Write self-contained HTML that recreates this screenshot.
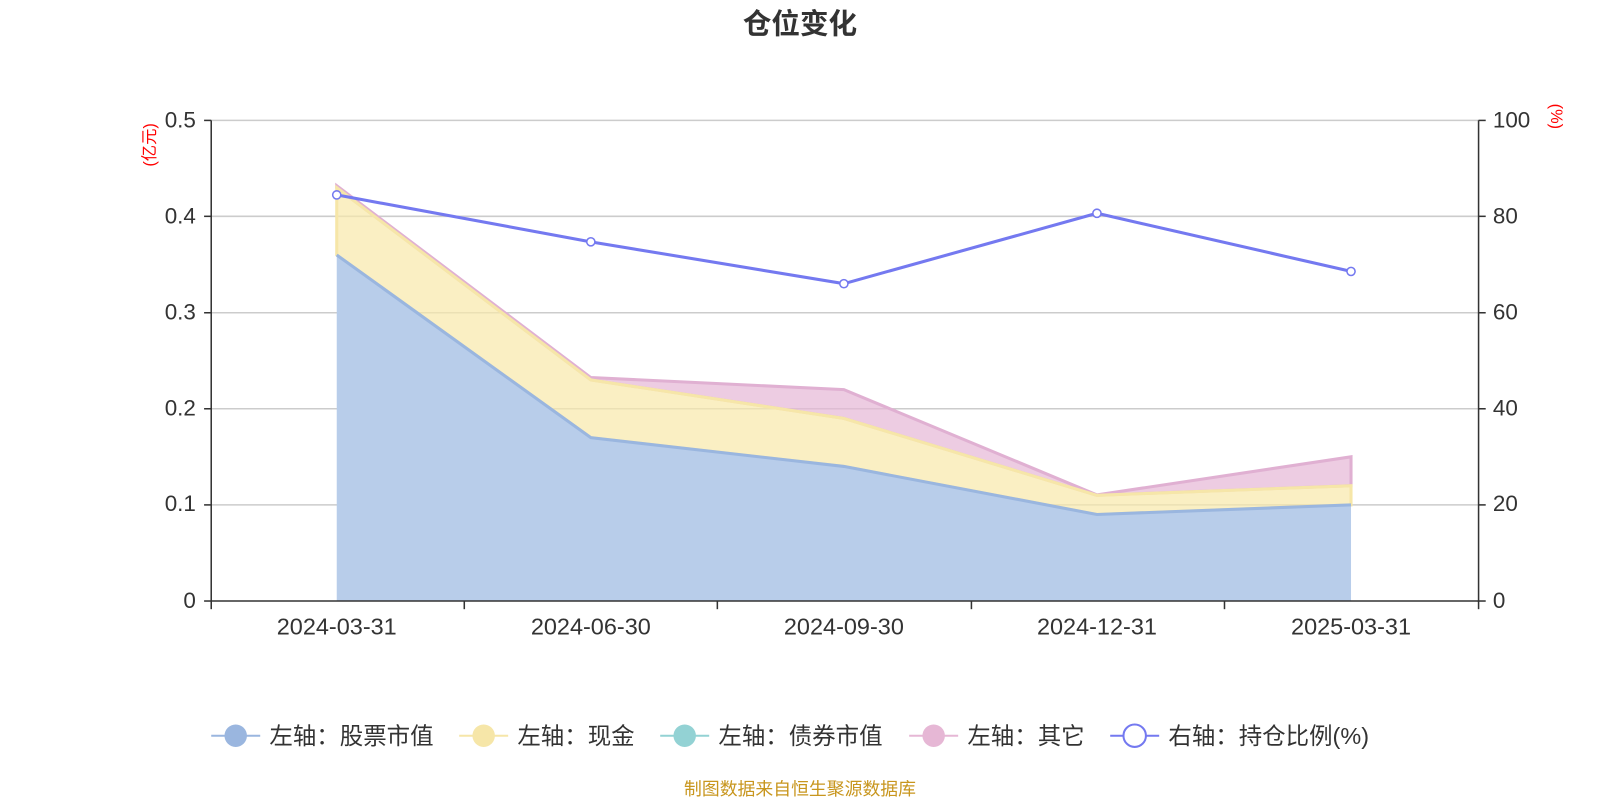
<!DOCTYPE html>
<html><head><meta charset="utf-8"><style>
body{margin:0;background:#fff;width:1600px;height:800px;overflow:hidden;font-family:"Liberation Sans","Noto Sans CJK SC",sans-serif}
</style></head><body>
<svg width="1600" height="800" viewBox="0 0 1568 784" xmlns="http://www.w3.org/2000/svg" font-family="'Liberation Sans','Noto Sans CJK SC',sans-serif">
<text x="784" y="33" text-anchor="middle" font-size="28" font-weight="bold" fill="#333">仓位变化</text>
<g stroke="#ccc" stroke-width="1.5">
<line x1="207" y1="118" x2="1449" y2="118"/><line x1="207" y1="212" x2="1449" y2="212"/><line x1="207" y1="306.5" x2="1449" y2="306.5"/><line x1="207" y1="400.6" x2="1449" y2="400.6"/><line x1="207" y1="494.8" x2="1449" y2="494.8"/>
</g>
<polygon points="330,182 579,370 827,381.8 1075,485 1324,447.7 1324,476 1075,485.4 827,410 579,372.3 330,184" fill="#e6b7d5" fill-opacity="0.7" stroke="#e0b0d2" stroke-width="3"/>
<polygon points="330,184 579,372.3 827,410 1075,485.4 1324,476 1324,494.8 1075,504.2 827,457.1 579,428.9 330,249.9" fill="#f8e8a9" fill-opacity="0.7" stroke="#f6e6a8" stroke-width="3"/>
<polygon points="330,249.9 579,428.9 827,457.1 1075,504.2 1324,494.8 1324,589 330,589" fill="#b8cdea"/>
<polyline points="330,249.9 579,428.9 827,457.1 1075,504.2 1324,494.8" fill="none" stroke="#9ab6df" stroke-width="3"/>
<g stroke="#333" stroke-width="1.5">
<line x1="207" y1="118" x2="207" y2="590"/><line x1="1449" y1="118" x2="1449" y2="590"/>
<line x1="207" y1="589" x2="1449" y2="589"/>
<line x1="200" y1="118" x2="207" y2="118"/><line x1="200" y1="212" x2="207" y2="212"/><line x1="200" y1="306.5" x2="207" y2="306.5"/><line x1="200" y1="400.6" x2="207" y2="400.6"/><line x1="200" y1="494.8" x2="207" y2="494.8"/><line x1="200" y1="589" x2="207" y2="589"/>
<line x1="1449" y1="118" x2="1456" y2="118"/><line x1="1449" y1="212" x2="1456" y2="212"/><line x1="1449" y1="306.5" x2="1456" y2="306.5"/><line x1="1449" y1="400.6" x2="1456" y2="400.6"/><line x1="1449" y1="494.8" x2="1456" y2="494.8"/><line x1="1449" y1="589" x2="1456" y2="589"/>
<line x1="207" y1="589" x2="207" y2="597"/><line x1="455" y1="589" x2="455" y2="597"/><line x1="703" y1="589" x2="703" y2="597"/><line x1="952" y1="589" x2="952" y2="597"/><line x1="1200" y1="589" x2="1200" y2="597"/><line x1="1449" y1="589" x2="1449" y2="597"/>
</g>
<g font-size="22" fill="#333" text-anchor="end">
<text x="192" y="125">0.5</text><text x="192" y="219">0.4</text><text x="192" y="313">0.3</text><text x="192" y="407">0.2</text><text x="192" y="501">0.1</text><text x="192" y="596">0</text>
</g>
<g font-size="22" fill="#333">
<text x="1463" y="125">100</text><text x="1463" y="219">80</text><text x="1463" y="313">60</text><text x="1463" y="407">40</text><text x="1463" y="501">20</text><text x="1463" y="596">0</text>
</g>
<g font-size="23" fill="#333" text-anchor="middle">
<text x="330" y="622">2024-03-31</text><text x="579" y="622">2024-06-30</text><text x="827" y="622">2024-09-30</text><text x="1075" y="622">2024-12-31</text><text x="1324" y="622">2025-03-31</text>
</g>
<text transform="translate(152,142) rotate(-90)" font-size="16" fill="red" text-anchor="middle">(亿元)</text>
<text transform="translate(1520,114) rotate(90)" font-size="16" fill="red" text-anchor="middle">(%)</text>
<polyline points="330,191 579,237 827,278 1075,209 1324,266" fill="none" stroke="#7479f0" stroke-width="3"/>
<g fill="#fff" stroke="#7479f0" stroke-width="1.5">
<circle cx="330" cy="191" r="4"/><circle cx="579" cy="237" r="4"/><circle cx="827" cy="278" r="4"/><circle cx="1075" cy="209" r="4"/><circle cx="1324" cy="266" r="4"/>
</g>
<g font-size="23" fill="#333">
<line x1="207" y1="721" x2="255" y2="721" stroke="#9ab6df" stroke-width="2"/><circle cx="231" cy="721" r="11" fill="#9ab6df"/><text x="264" y="729">左轴：股票市值</text>
<line x1="450" y1="721" x2="498" y2="721" stroke="#f6e6a8" stroke-width="2"/><circle cx="474" cy="721" r="11" fill="#f6e6a8"/><text x="507" y="729">左轴：现金</text>
<line x1="647" y1="721" x2="695" y2="721" stroke="#93d2d4" stroke-width="2"/><circle cx="671" cy="721" r="11" fill="#93d2d4"/><text x="704" y="729">左轴：债券市值</text>
<line x1="891" y1="721" x2="939" y2="721" stroke="#e6b7d5" stroke-width="2"/><circle cx="915" cy="721" r="11" fill="#e6b7d5"/><text x="948" y="729">左轴：其它</text>
<line x1="1088" y1="721" x2="1136" y2="721" stroke="#7479f0" stroke-width="2"/><circle cx="1112" cy="721" r="11" fill="#fff" stroke="#7479f0" stroke-width="2"/><text x="1145" y="729">右轴：持仓比例(%)</text>
</g>
<text x="784" y="779" text-anchor="middle" font-size="17.5" fill="#c8961e">制图数据来自恒生聚源数据库</text>
</svg>
</body></html>
